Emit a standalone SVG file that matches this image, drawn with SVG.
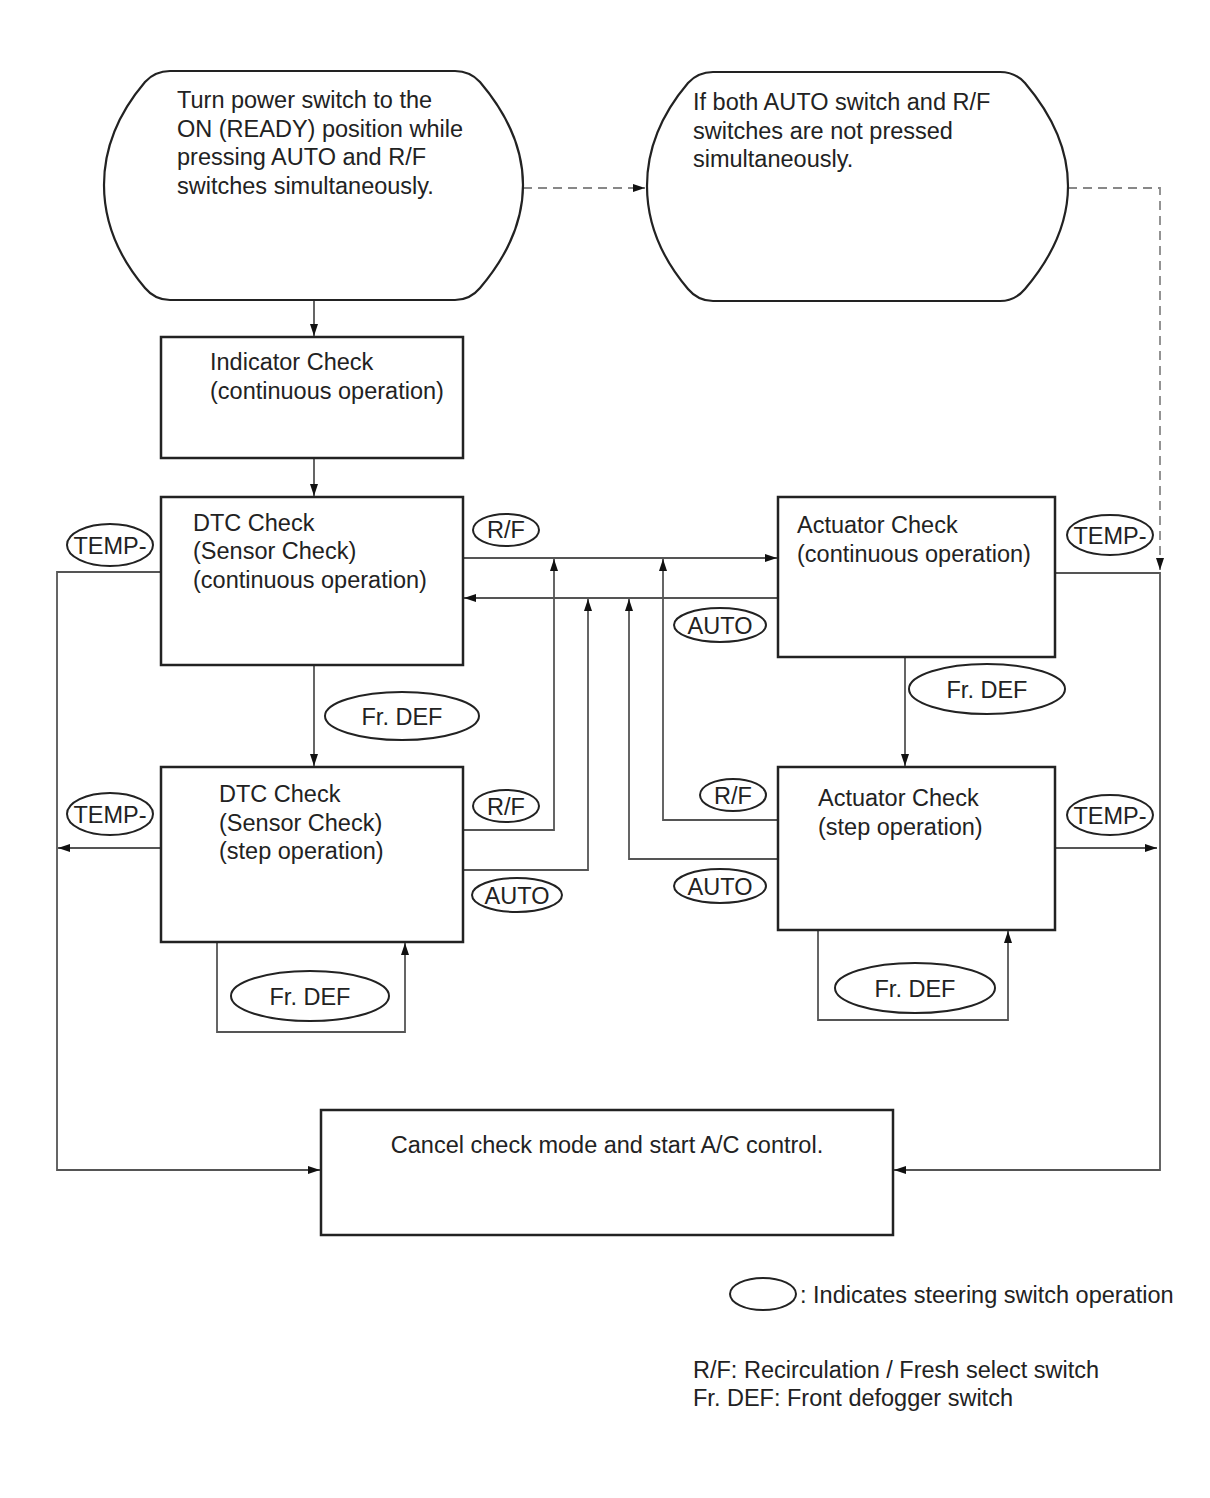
<svg xmlns="http://www.w3.org/2000/svg" width="1210" height="1498" viewBox="0 0 1210 1498">
<defs>
<marker id="ah" viewBox="0 0 12 8" refX="12" refY="4" markerWidth="12" markerHeight="8" markerUnits="userSpaceOnUse" orient="auto">
<path d="M0,0 L12,4 L0,8 Z" fill="#111"/>
</marker>
</defs>
<style>
.box{fill:#fff;stroke:#222;stroke-width:2.5}
.term{fill:#fff;stroke:#222;stroke-width:2.2}
.t{font-family:"Liberation Sans",Arial,sans-serif;font-size:23.5px;fill:#222}
.c{fill:none;stroke:#555;stroke-width:1.8}
.d{fill:none;stroke:#888;stroke-width:1.8;stroke-dasharray:9,6}
.lab{fill:#fff;stroke:#222;stroke-width:2}
.lt{font-family:"Liberation Sans",Arial,sans-serif;font-size:23.5px;fill:#222;text-anchor:middle}
</style>
<rect width="1210" height="1498" fill="#fff"/>

<g id="connectors">
<path class="c" d="M314,300 L314,336" marker-end="url(#ah)"/>
<path class="c" d="M314,458 L314,496" marker-end="url(#ah)"/>
<path class="d" d="M523,188 L645,188" marker-end="url(#ah)"/>
<path class="d" d="M1068,188 L1160,188 L1160,570" marker-end="url(#ah)"/>
<path class="c" d="M463,558 L777,558" marker-end="url(#ah)"/>
<path class="c" d="M778,598 L464,598" marker-end="url(#ah)"/>
<path class="c" d="M463,830 L554,830 L554,559" marker-end="url(#ah)"/>
<path class="c" d="M463,870 L588,870 L588,599" marker-end="url(#ah)"/>
<path class="c" d="M778,820 L663,820 L663,559" marker-end="url(#ah)"/>
<path class="c" d="M778,859 L629,859 L629,599" marker-end="url(#ah)"/>
<path class="c" d="M314,665 L314,766" marker-end="url(#ah)"/>
<path class="c" d="M905,657 L905,766" marker-end="url(#ah)"/>
<path class="c" d="M217,942 L217,1032 L405,1032 L405,943" marker-end="url(#ah)"/>
<path class="c" d="M818,930 L818,1020 L1008,1020 L1008,931" marker-end="url(#ah)"/>
<path class="c" d="M161,572 L57,572 L57,1170 L320,1170" marker-end="url(#ah)"/>
<path class="c" d="M161,848 L58,848" marker-end="url(#ah)"/>
<path class="c" d="M1055,573 L1160,573 L1160,1170 L894,1170" marker-end="url(#ah)"/>
<path class="c" d="M1055,848 L1157,848" marker-end="url(#ah)"/>
</g>

<g id="start">
<path class="term" d="M170,71 L455,71 Q470,71 480,82 C508,115 523,150 523,185 C523,220 508,255 480,288 Q470,300 455,300 L170,300 Q155,300 145,288 C117,255 104,220 104,185 C104,150 117,115 145,82 Q155,71 170,71 Z"/>
<text class="t" x="177" y="108">Turn power switch to the</text>
<text class="t" x="177" y="137">ON (READY) position while</text>
<text class="t" x="177" y="165">pressing AUTO and R/F</text>
<text class="t" x="177" y="194">switches simultaneously.</text>
</g>

<g id="notpressed">
<path class="term" d="M713,72 L1000,72 Q1015,72 1025,83 C1053,116 1068,151 1068,186 C1068,221 1053,256 1025,289 Q1015,301 1000,301 L713,301 Q698,301 688,289 C660,256 647,221 647,186 C647,151 660,116 688,83 Q698,72 713,72 Z"/>
<text class="t" x="693" y="110">If both AUTO switch and R/F</text>
<text class="t" x="693" y="139">switches are not pressed</text>
<text class="t" x="693" y="167">simultaneously.</text>
</g>

<g id="indicator">
<rect class="box" x="161" y="337" width="302" height="121"/>
<text class="t" x="210" y="370">Indicator Check</text>
<text class="t" x="210" y="399">(continuous operation)</text>
</g>

<g id="dtc-cont">
<rect class="box" x="161" y="497" width="302" height="168"/>
<text class="t" x="193" y="531">DTC Check</text>
<text class="t" x="193" y="559">(Sensor Check)</text>
<text class="t" x="193" y="588">(continuous operation)</text>
</g>

<g id="act-cont">
<rect class="box" x="778" y="497" width="277" height="160"/>
<text class="t" x="797" y="533">Actuator Check</text>
<text class="t" x="797" y="562">(continuous operation)</text>
</g>

<g id="dtc-step">
<rect class="box" x="161" y="767" width="302" height="175"/>
<text class="t" x="219" y="802">DTC Check</text>
<text class="t" x="219" y="831">(Sensor Check)</text>
<text class="t" x="219" y="859">(step operation)</text>
</g>

<g id="act-step">
<rect class="box" x="778" y="767" width="277" height="163"/>
<text class="t" x="818" y="806">Actuator Check</text>
<text class="t" x="818" y="835">(step operation)</text>
</g>

<g id="cancel">
<rect class="box" x="321" y="1110" width="572" height="125"/>
<text class="t" x="607" y="1153" text-anchor="middle">Cancel check mode and start A/C control.</text>
</g>

<g id="labels">
<ellipse class="lab" cx="506" cy="530" rx="33" ry="16"/><text class="lt" x="506" y="538">R/F</text>
<ellipse class="lab" cx="720" cy="625" rx="46" ry="17"/><text class="lt" x="720" y="634">AUTO</text>
<ellipse class="lab" cx="506" cy="806" rx="33" ry="16"/><text class="lt" x="506" y="815">R/F</text>
<ellipse class="lab" cx="517" cy="895" rx="45" ry="17"/><text class="lt" x="517" y="904">AUTO</text>
<ellipse class="lab" cx="733" cy="795" rx="33" ry="16"/><text class="lt" x="733" y="804">R/F</text>
<ellipse class="lab" cx="720" cy="886" rx="46" ry="17"/><text class="lt" x="720" y="895">AUTO</text>
<ellipse class="lab" cx="110" cy="545" rx="43" ry="21"/><text class="lt" x="110" y="554">TEMP-</text>
<ellipse class="lab" cx="110" cy="814" rx="43" ry="21"/><text class="lt" x="110" y="823">TEMP-</text>
<ellipse class="lab" cx="1110" cy="535" rx="43" ry="20"/><text class="lt" x="1110" y="544">TEMP-</text>
<ellipse class="lab" cx="1110" cy="815" rx="43" ry="20"/><text class="lt" x="1110" y="824">TEMP-</text>
<ellipse class="lab" cx="402" cy="716" rx="77" ry="24"/><text class="lt" x="402" y="725">Fr. DEF</text>
<ellipse class="lab" cx="987" cy="689" rx="78" ry="25"/><text class="lt" x="987" y="698">Fr. DEF</text>
<ellipse class="lab" cx="310" cy="996" rx="79" ry="25"/><text class="lt" x="310" y="1005">Fr. DEF</text>
<ellipse class="lab" cx="915" cy="988" rx="80" ry="25"/><text class="lt" x="915" y="997">Fr. DEF</text>
</g>

<g id="legend">
<ellipse class="lab" cx="763" cy="1294" rx="33" ry="16"/>
<text class="t" x="800" y="1303">: Indicates steering switch operation</text>
<text class="t" x="693" y="1378">R/F: Recirculation / Fresh select switch</text>
<text class="t" x="693" y="1406">Fr. DEF: Front defogger switch</text>
</g>
</svg>
